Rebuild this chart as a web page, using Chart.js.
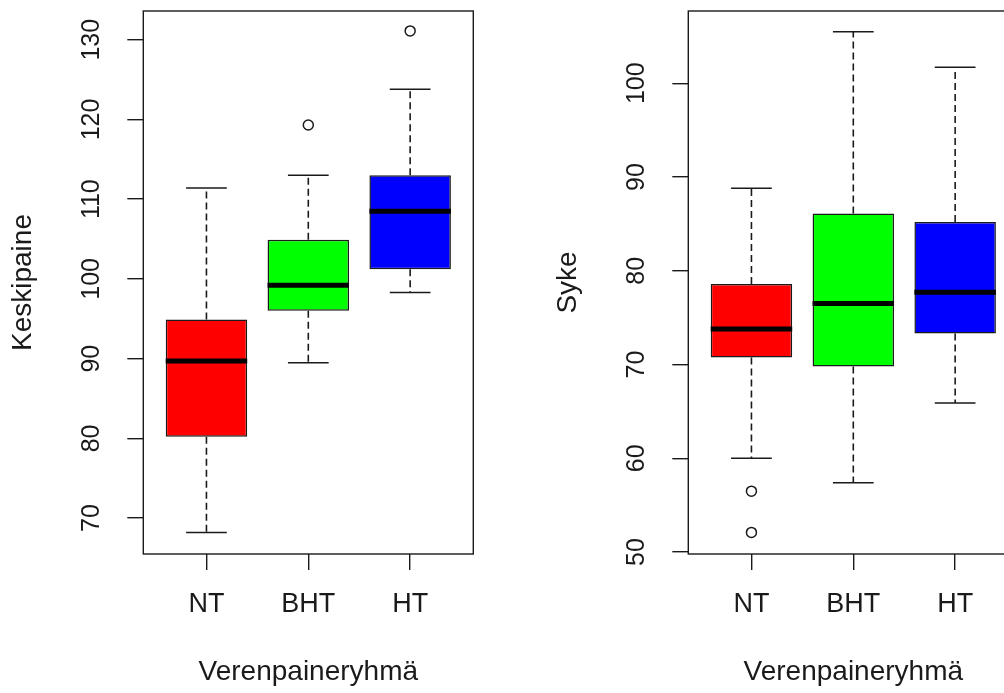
<!DOCTYPE html>
<html>
<head>
<meta charset="utf-8">
<script src="https://cdn.jsdelivr.net/npm/chart.js@4"></script>
<style>
  html, body { margin: 0; padding: 0; background: #fff; }
  #wrap { position: relative; width: 1004px; height: 693px; overflow: hidden; background: #fff; }
  canvas { position: absolute; top: 0; }
  #mapChart { left: 0; }
  #hrChart { left: 545px; }
</style>
</head>
<body>
<div id="wrap">
  <canvas id="mapChart" width="502" height="693" style="width:502px;height:693px"></canvas>
  <canvas id="hrChart" width="502" height="693" style="width:502px;height:693px"></canvas>
</div>
<script>
// groups & colours
const groups = ['NT', 'BHT', 'HT'];
const boxColors = ['#ff0000', '#00ff00', '#0000ff'];

// Keskipaine (mean arterial pressure) box stats
const mapLower = [68.2, 89.5, 98.3];
const mapQ1 = [80.2, 96.0, 101.2];
const mapMedian = [89.7, 99.2, 108.5];
const mapQ3 = [94.9, 104.9, 113.0];
const mapUpper = [111.4, 113.0, 123.8];
const mapOutGroup = ['BHT', 'HT'];
const mapOutValue = [119.3, 131.1];
const mapTicks = [70, 80, 90, 100, 110, 120, 130];

// Syke (heart rate) box stats
const hrLower = [60.0, 57.4, 65.9];
const hrQ1 = [70.75, 69.8, 73.3];
const hrMedian = [73.8, 76.5, 77.7];
const hrQ3 = [78.6, 86.1, 85.2];
const hrUpper = [88.8, 105.5, 101.7];
const hrOutGroup = ['NT', 'NT'];
const hrOutValue = [56.5, 52.1];
const hrTicks = [50, 60, 70, 80, 90, 100];

const FONT = "'Liberation Sans', Arial, sans-serif";
const INK = '#1a1a1a';

// draws the R-style box around the plot region
const framePlugin = {
    id: 'frame',
    afterDraw(chart) {
        const a = chart.chartArea;
        const ctx = chart.ctx;
        ctx.save();
        ctx.strokeStyle = INK;
        ctx.lineWidth = 1.4;
        ctx.strokeRect(a.left, a.top, a.right - a.left, a.bottom - a.top);
        ctx.restore();
    }
};

function buildDatasets(lower, q1, med, q3, upper, outGroup, outValue) {
    const whiskers = [];
    const caps = [];
    const medians = [];
    groups.forEach((g, i) => {
        const x = i + 1;
        whiskers.push({x: x, y: q3[i]}, {x: x, y: upper[i]}, {x: x, y: null});
        whiskers.push({x: x, y: q1[i]}, {x: x, y: lower[i]}, {x: x, y: null});
        caps.push({x: x - 0.2, y: upper[i]}, {x: x + 0.2, y: upper[i]}, {x: x, y: null});
        caps.push({x: x - 0.2, y: lower[i]}, {x: x + 0.2, y: lower[i]}, {x: x, y: null});
        medians.push({x: x - 0.4, y: med[i]}, {x: x + 0.4, y: med[i]}, {x: x, y: null});
    });
    return [
        {
            type: 'line', data: medians, borderColor: '#000', borderWidth: 5,
            borderCapStyle: 'butt', pointRadius: 0, spanGaps: false, order: 0
        },
        {
            type: 'scatter',
            data: outGroup.map((g, i) => ({x: groups.indexOf(g) + 1, y: outValue[i]})),
            pointStyle: 'circle', pointRadius: 5, borderColor: INK, borderWidth: 1.5,
            backgroundColor: 'rgba(0,0,0,0)', order: 0
        },
        {
            type: 'bar',
            data: groups.map((g, i) => ({x: i + 1, y: [q1[i], q3[i]]})),
            backgroundColor: boxColors, borderColor: INK, borderWidth: 1.5,
            borderSkipped: false, categoryPercentage: 1, barPercentage: 0.8, order: 1
        },
        {
            type: 'line', data: whiskers, borderColor: INK, borderWidth: 1.6,
            borderDash: [7, 4], pointRadius: 0, spanGaps: false, order: 2
        },
        {
            type: 'line', data: caps, borderColor: INK, borderWidth: 1.5,
            pointRadius: 0, spanGaps: false, order: 2
        }
    ];
}

function makeChart(id, datasets, yMin, yMax, yTicks, yTitle) {
    const ctx = document.getElementById(id).getContext('2d');
    return new Chart(ctx, {
        type: 'bar',
        data: { datasets: datasets },
        plugins: [framePlugin],
        options: {
            responsive: false,
            animation: false,
            layout: { padding: { left: 0, top: 11, right: 28.7, bottom: 0 } },
            plugins: { legend: { display: false }, tooltip: { enabled: false } },
            scales: {
                x: {
                    type: 'linear', min: 0.38, max: 3.62, offset: false,
                    afterBuildTicks: s => { s.ticks = groups.map((g, i) => ({value: i + 1})); },
                    afterFit: s => { s.height = 139; s.paddingLeft = 0; s.paddingRight = 0; },
                    grid: { offset: false, drawOnChartArea: false, drawTicks: true, tickLength: 16, color: INK, lineWidth: 1.4 },
                    border: { display: false },
                    ticks: {
                        autoSkip: false, padding: 18.5, color: INK,
                        font: { family: FONT, size: 27 },
                        callback: v => groups[Math.round(v) - 1]
                    },
                    title: {
                        display: true, text: 'Verenpaineryhmä', color: INK,
                        font: { family: FONT, size: 28 }, padding: { top: 0, bottom: 3.5 }
                    }
                },
                y: {
                    type: 'linear', min: yMin, max: yMax,
                    afterBuildTicks: s => { s.ticks = yTicks.map(v => ({value: v})); },
                    afterFit: s => { s.width = 143.3; s.paddingTop = 0; s.paddingBottom = 0; },
                    grid: { drawOnChartArea: false, drawTicks: true, tickLength: 16, color: INK, lineWidth: 1.4 },
                    border: { display: false },
                    ticks: {
                        autoSkip: false, minRotation: 90, maxRotation: 90,
                        crossAlign: 'center', padding: 14.5, color: INK,
                        font: { family: FONT, size: 25 }
                    },
                    title: {
                        display: true, text: yTitle, color: INK,
                        font: { family: FONT, size: 28 }, padding: { top: 6.5, bottom: 0 }
                    }
                }
            }
        }
    });
}

makeChart('mapChart',
    buildDatasets(mapLower, mapQ1, mapMedian, mapQ3, mapUpper, mapOutGroup, mapOutValue),
    65.5, 133.6, mapTicks, 'Keskipaine');

makeChart('hrChart',
    buildDatasets(hrLower, hrQ1, hrMedian, hrQ3, hrUpper, hrOutGroup, hrOutValue),
    49.8, 107.7, hrTicks, 'Syke');
</script>
</body>
</html>
